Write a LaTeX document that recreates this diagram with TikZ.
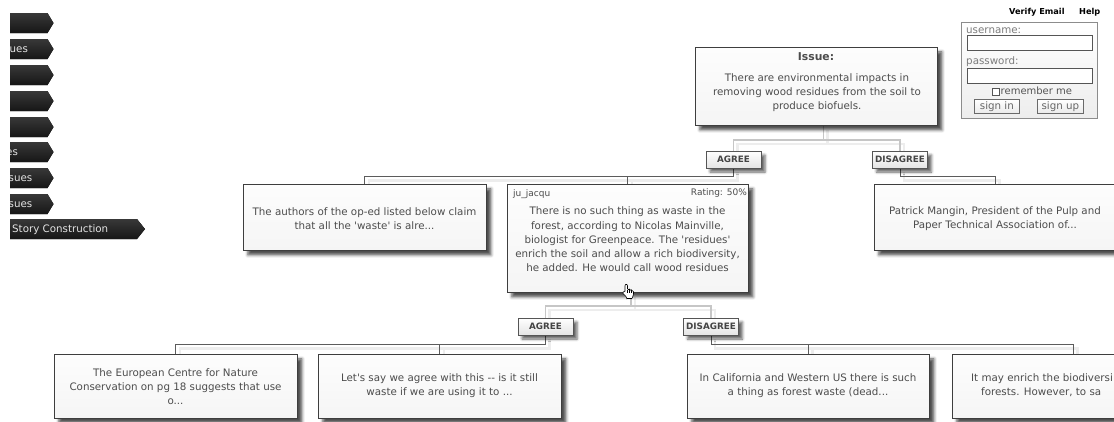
\documentclass[tikz,border=0pt]{standalone}
\usepackage{fontspec}
\setmainfont{DejaVu Sans}
\usetikzlibrary{shadows.blur}

\pgfdeclarelayer{wires}
\pgfsetlayers{wires,main}

\definecolor{ink}{HTML}{4C4C4C}
\definecolor{cardline}{HTML}{3E3E3E}
\definecolor{cardtop}{HTML}{FDFDFD}
\definecolor{cardbot}{HTML}{F5F5F5}
\definecolor{darkconn}{HTML}{5C5C5C}
\definecolor{lightconn}{HTML}{C6C6C6}
\definecolor{wireghost}{HTML}{EDEDED}
\definecolor{labline}{HTML}{555555}
\definecolor{labbot}{HTML}{E4E4E4}
\definecolor{labtext}{HTML}{444444}
\definecolor{tabtop}{HTML}{383838}
\definecolor{tabbot}{HTML}{161616}
\definecolor{tabtext}{HTML}{E4E4E4}
\definecolor{panelline}{HTML}{8C8C8C}
\definecolor{panelbot}{HTML}{EDEDED}
\definecolor{fieldline}{HTML}{555555}
\definecolor{formgrey}{HTML}{7C7C7C}
\definecolor{btnline}{HTML}{6A6A6A}
\definecolor{btnbot}{HTML}{EAEAEA}
\definecolor{btntext}{HTML}{666666}

\tikzset{
  txt/.style={inner sep=0pt, text=ink, font=\fontsize{10.3}{14.2}\selectfont, align=center},
  card/.style={draw=cardline, line width=0.9pt, top color=cardtop, bottom color=cardbot,
    inner sep=0pt, anchor=north west,
    blur shadow={shadow xshift=4.5pt, shadow yshift=-4.5pt, shadow opacity=70, shadow blur radius=3pt}},
  verdict/.style={draw=labline, line width=0.8pt, top color=white, bottom color=labbot,
    inner xsep=2pt, inner ysep=0pt, minimum width=55pt, minimum height=17pt, text=labtext,
    font=\fontsize{8.8}{10}\selectfont\bfseries,
    blur shadow={shadow xshift=4pt, shadow yshift=-4pt, shadow opacity=60, shadow blur radius=2.5pt}},
  wire/.style={draw=darkconn, line width=1pt},
  softwire/.style={draw=lightconn, line width=1.2pt},
  wireshadow/.style={draw=wireghost, line width=2.5pt},
  tabshape/.style={top color=tabtop, bottom color=tabbot},
  tabtxt/.style={inner sep=0pt, text=tabtext, font=\fontsize{10.3}{12}\selectfont, anchor=base west},
  panel/.style={draw=panelline, line width=0.8pt, top color=white, bottom color=panelbot, inner sep=0pt, anchor=north west},
  field/.style={draw=fieldline, fill=white, line width=0.8pt, inner sep=0pt, anchor=north west},
  btn/.style={draw=btnline, line width=0.8pt, top color=white, bottom color=btnbot, inner sep=0pt,
    anchor=north west, text=btntext, font=\fontsize{10.3}{12}\selectfont},
  formtxt/.style={inner sep=0pt, anchor=west, font=\fontsize{10.3}{12}\selectfont},
  toplink/.style={inner sep=0pt, anchor=west, text=black, font=\fontsize{8.2}{10}\selectfont\bfseries},
}

% the tree connectors; #1 = style of the verdict links, #2 = style of the child links
\newcommand{\wiring}[2]{%
  \draw[#1] ([xshift=7pt]issue.south) -- ++(0,14) -| (agreeA.north);
  \draw[#1] ([xshift=7pt]issue.south) -- ++(0,14) -| (disagreeA.north);
  \draw[#2] (agreeA.south) -- ++(0,8) -| (authors.north);
  \draw[#2] (agreeA.south) -- ++(0,8) -| (post.north);
  \draw[#2] (disagreeA.south) -- ++(0,8) -| (mangin.north);
  \draw[#1] ([xshift=3pt]post.south) -- ++(0,13) -| (agreeB.north);
  \draw[#1] ([xshift=3pt]post.south) -- ++(0,13) -| (disagreeB.north);
  \draw[#2] (agreeB.south) -- ++(0,9) -| (centre.north);
  \draw[#2] (agreeB.south) -- ++(0,9) -| (letsay.north);
  \draw[#2] (disagreeB.south) -- ++(0,9) -| (calif.north);
  \draw[#2] (disagreeB.south) -- ++(0,9) -| (enrich.north);
}

\begin{document}
\begin{tikzpicture}[x=1pt,y=-1pt]
\useasboundingbox (0,0) rectangle (1114,421);
\clip (0,0) rectangle (1114,421);

% ---- side menu tabs ----
\foreach \yy in {23,49,75,101,127,152,178,204}{
  \fill[tabshape] (10,\yy-10) -- (47.5,\yy-10) -- (53.5,\yy) -- (47.5,\yy+10) -- (10,\yy+10) -- cycle;
}
\fill[tabshape] (10,219) -- (137,219) -- (145,229) -- (137,239) -- (10,239) -- cycle;
\begin{scope}
  \clip (10,0) rectangle (200,260);
  \node[tabtxt] (tab-two) at (9.5,52.5) {ues};
  \node[tabtxt] (tab-six) at (6,155.5) {es};
  \node[tabtxt] (tab-seven) at (8.5,181.5) {sues};
  \node[tabtxt] (tab-eight) at (8.5,207) {sues};
  \node[tabtxt] (tab-story) at (12,232.5) {Story Construction};
\end{scope}

% ---- cards ----
\node[card, minimum width=242, minimum height=78] (issue) at (695,47) {};
\node[card, minimum width=243, minimum height=66] (authors) at (243,184) {};
\node[card, minimum width=241, minimum height=108] (post) at (507,184) {};
\node[card, minimum width=242, minimum height=66] (mangin) at (874,184) {};
\node[card, minimum width=243, minimum height=64] (centre) at (54,354) {};
\node[card, minimum width=243, minimum height=64] (letsay) at (318,354) {};
\node[card, minimum width=242, minimum height=64] (calif) at (687,354) {};
\node[card, minimum width=242, minimum height=64] (enrich) at (952,354) {};

% ---- verdict labels ----
\node[verdict] (agreeA) at (733.5,159.5) {AGREE};
\node[verdict] (disagreeA) at (900,159.5) {DISAGREE};
\node[verdict] (agreeB) at (545.5,326.5) {AGREE};
\node[verdict] (disagreeB) at (711,326.5) {DISAGREE};

% ---- connectors ----
\begin{pgfonlayer}{wires}
  \begin{scope}[transform canvas={shift={(4pt,-4pt)}}]
    \wiring{wireshadow}{wireshadow}
  \end{scope}
  \wiring{softwire}{wire}
\end{pgfonlayer}

% ---- card texts ----
\node[txt, font=\fontsize{10.8}{13}\selectfont\bfseries] (issue-head) at (816,57) {Issue:};
\node[txt] (issue-body) at (817,92.5) {There are environmental impacts in\\removing wood residues from the soil to\\produce biofuels.};
\node[txt] (authors-t) at (364.5,219) {The authors of the op-ed listed below claim\\that all the \textquotesingle waste\textquotesingle\ is alre...};
\node[txt, font=\fontsize{9}{11}\selectfont, anchor=west] (post-user) at (513,194.5) {ju\_jacqu};
\node[txt, font=\fontsize{9}{11}\selectfont, anchor=east] (post-rating) at (747,193.5) {Rating: 50\%};
\node[txt] (post-t) at (627.5,239.5) {There is no such thing as waste in the\\forest, according to Nicolas Mainville,\\biologist for Greenpeace. The \textquotesingle residues\textquotesingle\\enrich the soil and allow a rich biodiversity,\\he added. He would call wood residues};
\node[txt] (mangin-t) at (995,219) {Patrick Mangin, President of the Pulp and\\Paper Technical Association of...};
\node[txt] (centre-t) at (175.5,386.5) {The European Centre for Nature\\Conservation on pg 18 suggests that use\\o...};
\node[txt] (letsay-t) at (439.5,386) {Let\textquotesingle s say we agree with this -{}- is it still\\waste if we are using it to ...};
\node[txt] (calif-t) at (808,386) {In California and Western US there is such\\a thing as forest waste (dead...};
\node[txt, anchor=base west] (enrich-t1) at (971,381.5) {It may enrich the biodiversi};
\node[txt, anchor=base west] (enrich-t2) at (981,395.5) {forests. However, to sa};

% ---- pointer hand ----
\begin{scope}[shift={(622,284)}]
  \filldraw[fill=white, draw=black, line width=0.6pt, rounded corners=0.8pt]
    (3,7.5) -- (3,1) -- (4.25,0) -- (5.5,1) -- (5.5,5.5) -- (7.5,5.5) -- (7.5,6)
    -- (9.5,6) -- (9.5,6.8) -- (11.5,7) -- (11.5,10.5) -- (10.5,13) -- (10.5,14.5)
    -- (4.5,14.5) -- (4.5,13) -- (0.5,9) -- (1.5,7.5) -- cycle;
  \draw[line width=0.5pt] (5.5,5.5) -- (5.5,8.5) (7.5,6) -- (7.5,8.5) (9.5,6.8) -- (9.5,8.5);
\end{scope}

% ---- login panel ----
\node[toplink] (verify) at (1009,12) {Verify Email};
\node[toplink] (help) at (1079,12) {Help};
\node[panel, minimum width=136, minimum height=96] (login) at (961,22) {};
\node[formtxt, text=formgrey] (user-l) at (966,30.5) {username:};
\node[field, minimum width=125, minimum height=15] (user-f) at (967,35) {};
\node[formtxt, text=formgrey] (pass-l) at (966,61.5) {password:};
\node[field, minimum width=125, minimum height=15] (pass-f) at (967,68) {};
\node[field, draw=labline, minimum width=7, minimum height=7] (remember-box) at (991.5,87.5) {};
\node[formtxt, text=labline, font=\fontsize{10}{12}\selectfont] (remember-l) at (1000.5,91) {remember me};
\node[btn, minimum width=45, minimum height=14] (signin) at (974,99) {sign in};
\node[btn, minimum width=46, minimum height=14] (signup) at (1037,99) {sign up};
\end{tikzpicture}
\end{document}
